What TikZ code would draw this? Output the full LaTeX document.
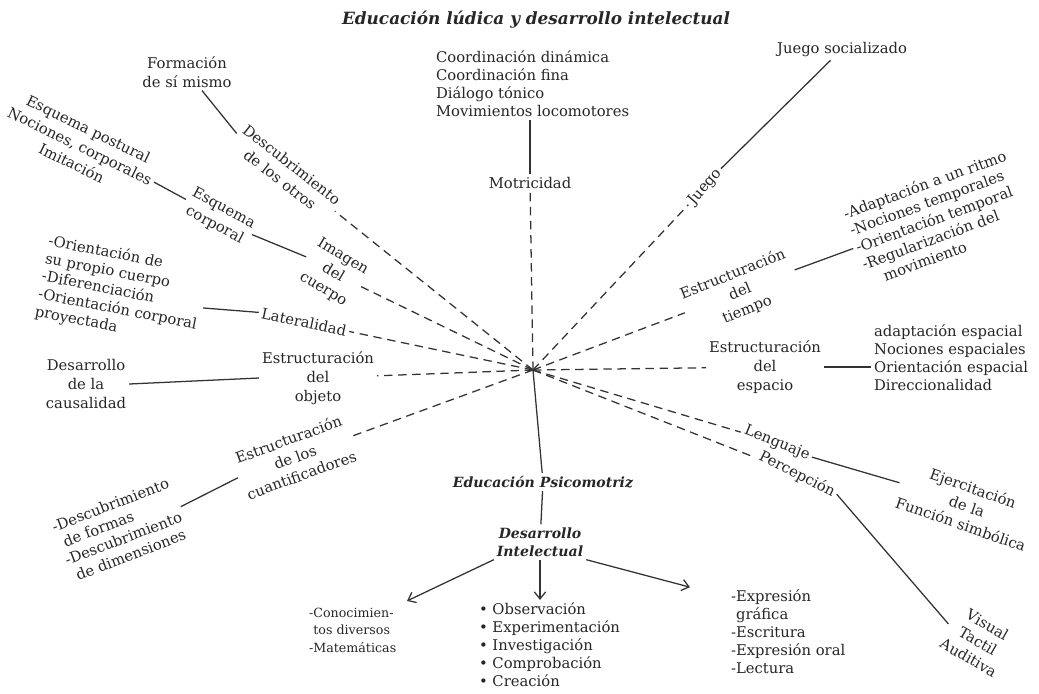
\documentclass[tikz,border=0pt]{standalone}
\usepackage{fontspec}
\setmainfont{DejaVu Serif}
\usetikzlibrary{arrows.meta}
\tikzset{
>={Straight Barb[length=5pt,width=8pt]},
  every node/.style={inner sep=2pt, text=black!85},
  rama/.style={
    align=center,
    font=\fontsize{10.5}{13.5}\selectfont},
  lista/.style={
    align=left,
    font=\fontsize{10.5}{12.8}\selectfont},
  titulo/.style={
    align=center,
    font=\fontsize{12}{14}\selectfont\bfseries\itshape},
  radio/.style={draw=black!80, line width=0.9pt, dash pattern=on 6pt off 4pt},
  enlace/.style={draw=black!80, line width=0.9pt},
  flecha/.style={enlace, ->},
}

\begin{document}
\begin{tikzpicture}[x=0.025cm, y=-0.025cm]

    \useasboundingbox (0,0) rectangle (1039,693);

    \coordinate (hub) at (533,370);

    \node[titulo] (titulo) at (536,20) {Educación lúdica y desarrollo intelectual};

    % arriba
    \node[lista, anchor=west] (coord) at (433,84) {Coordinación dinámica\\Coordinación fina\\Diálogo tónico\\Movimientos locomotores};
    \node[rama] (motr) at (530,183) {Motricidad};

    % izquierda
    \node[rama] (formacion) at (187,72) {Formación\\de sí mismo};
    \node[rama, rotate=-38] (otros) at (286,172) {Descubrimiento\\de los otros};
    \node[rama, rotate=-26] (esqlist) at (80,146) {Esquema postural\\Nociones, corporales\\Imitación};
    \node[rama, rotate=-28] (esquema) at (219,217) {Esquema\\corporal};
    \node[rama, rotate=-31] (imagen) at (333,273) {Imagen\\del\\cuerpo};
    \node[lista, rotate=-11] (latlist) at (121,292) {-Orientación de\\su propio cuerpo\\-Diferenciación\\-Orientación corporal\\proyectada};
    \node[rama, rotate=-12] (lateral) at (304,322) {Lateralidad};
    \node[rama] (causal) at (86,384) {Desarrollo\\de la\\causalidad};
    \node[rama] (objeto) at (318,378) {Estructuración\\del\\objeto};
    \node[rama, rotate=20] (cuanti) at (295,457) {Estructuración\\de los\\cuantificadores};
    \node[lista, rotate=21] (cuantlist) at (120,530) {-Descubrimiento\\\hphantom{-}de formas\\-Descubrimiento\\\hphantom{-}de dimensiones};

    % abajo
    \node[titulo, font=\fontsize{10}{13}\selectfont\bfseries\itshape] (psico) at (543,482) {Educación Psicomotriz};
    \node[titulo, font=\fontsize{10}{13}\selectfont\bfseries\itshape] (desint) at (540,542) {Desarrollo\\Intelectual};
    \node[lista, anchor=west, font=\fontsize{9}{12.5}\selectfont] (conoc) at (306,630) {-Conocimien-\\\hphantom{-}tos diversos\\-Matemáticas};
    \node[lista, anchor=west] (obs) at (476,645) {\textbullet\ Observación\\\textbullet\ Experimentación\\\textbullet\ Investigación\\\textbullet\ Comprobación\\\textbullet\ Creación};
    \node[lista, anchor=west] (expr) at (728,632) {-Expresión\\\hphantom{-}gráfica\\-Escritura\\-Expresión oral\\-Lectura};

    % derecha
    \node[rama, rotate=-27] (percep) at (797,474) {Percepción};
    \node[rama, rotate=-30] (visual) at (978,641) {Visual\\Tactil\\Auditiva};
    \node[rama, rotate=-22] (lenguaje) at (777,443) {Lenguaje};
    \node[rama, rotate=-19] (ejerc) at (967,506) {Ejercitación\\de la\\Función simbólica};
    \node[rama] (espacio) at (765,367) {Estructuración\\del\\espacio};
    \node[lista, anchor=west] (esplist) at (871,358) {adaptación espacial\\Nociones espaciales\\Orientación espacial\\Direccionalidad};
    \node[rama, rotate=22] (tiempo) at (740,292) {Estructuración\\del\\tiempo};
    \node[lista, rotate=20] (tiempolist) at (937,218) {-Adaptación a un ritmo\\-Nociones temporales\\-Orientación temporal\\-Regularización del\\\hphantom{-R}movimiento};
    \node[rama, rotate=49] (juego) at (705,187) {Juego};
    \node[rama] (jsoc) at (842,50) {Juego socializado};

    % radios
    \foreach \n in {motr,otros,imagen,lateral,objeto,cuanti,juego,tiempo,espacio,lenguaje,percep}
        \draw[radio] (hub) -- (\n);

    \draw[enlace] (motr) -- (motr |- coord.south);
    \draw[enlace] (formacion) -- (otros.west);
    \draw[enlace] (esqlist.east) -- (esquema.west);
    \draw[enlace] (esquema.east) -- (imagen.west);
    \draw[enlace] (latlist.east) -- (lateral.west);
    \draw[enlace] (causal.east) -- (objeto.west);
    \draw[enlace] (cuantlist.east) -- (cuanti.west);
    \draw[enlace] (hub) -- (psico);
    \draw[enlace] (psico) -- (desint);
    \draw[enlace] (percep.east) -- (visual.west);
    \draw[enlace] (lenguaje.east) -- (ejerc.west);
    \draw[enlace] (espacio.east) -- (espacio.east -| esplist.west);
    \draw[enlace] (tiempo.east) -- (tiempolist.west);
    \draw[enlace] (juego.east) -- (jsoc.222);

    \draw[flecha, shorten >=6pt] (desint.south west) -- (conoc.north east);
    \draw[flecha] (desint.south) -- (desint.south |- obs.north);
    \draw[flecha, shorten >=28pt] (desint.south east) -- (expr.150);

\end{tikzpicture}
\end{document}
